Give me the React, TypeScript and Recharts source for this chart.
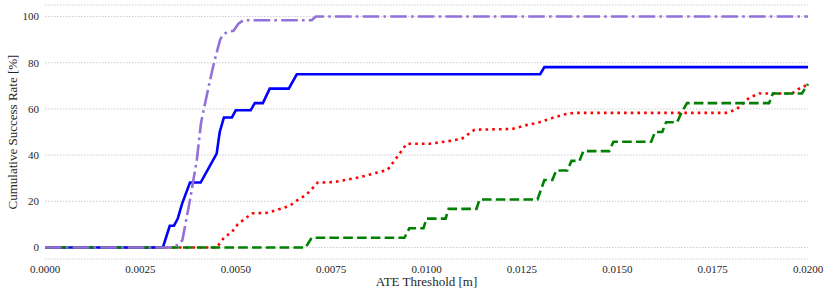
import { LineChart, Line, XAxis, YAxis, CartesianGrid } from 'recharts';

// tick positions
const xTicks = [0, 0.0025, 0.005, 0.0075, 0.01, 0.0125, 0.015, 0.0175, 0.02];
const yTicks = [0, 20, 40, 60, 80, 100];

// red, dotted
const redX = [0, 0.0045, 0.00471, 0.00489, 0.00505, 0.00531, 0.00545, 0.00581, 0.00607, 0.00641, 0.0066, 0.00686, 0.00715, 0.00757, 0.00825, 0.00872, 0.00898, 0.00921, 0.00948, 0.01008, 0.01052, 0.01092, 0.01126, 0.01225, 0.01257, 0.01296, 0.0133, 0.01366, 0.01387, 0.01785, 0.01812, 0.01846, 0.01872, 0.01958, 0.01976, 0.02];
const redY = [0, 0, 4.6, 6.5, 10, 13.3, 14.8, 15, 16.2, 18, 20.3, 23, 28.1, 28.3, 30.4, 32.5, 33.6, 38.7, 44.9, 44.9, 45.9, 47, 51, 51.3, 52.8, 54.2, 56.1, 57.8, 58.3, 58.3, 59.7, 64.8, 66.7, 66.7, 68.7, 70.6];

// blue, solid
const blueX = [0, 0.00309, 0.00327, 0.00338, 0.00348, 0.00359, 0.00366, 0.0038, 0.00408, 0.0045, 0.00458, 0.00469, 0.0049, 0.005, 0.00539, 0.0055, 0.00571, 0.00589, 0.00639, 0.0066, 0.01298, 0.01309, 0.02];
const blueY = [0, 0, 9.4, 9.4, 12.5, 18.8, 21.9, 28.1, 28.1, 40.6, 50, 56.3, 56.3, 59.4, 59.4, 62.5, 62.5, 68.8, 68.8, 75, 75, 78.1, 78.1];

// green, dashed
const greenX = [0, 0.00683, 0.00699, 0.00942, 0.00955, 0.00992, 0.01, 0.0105, 0.01058, 0.01131, 0.01139, 0.01291, 0.01309, 0.0133, 0.0134, 0.01369, 0.0138, 0.01401, 0.01411, 0.01479, 0.0149, 0.01589, 0.01599, 0.01618, 0.01628, 0.01657, 0.01668, 0.01683, 0.01898, 0.01908, 0.01984, 0.02];
const greenY = [0, 0, 4.2, 4.2, 8.3, 8.3, 12.5, 12.5, 16.7, 16.7, 20.8, 20.8, 29.2, 29.2, 33.3, 33.3, 37.5, 37.5, 41.7, 41.7, 45.8, 45.8, 50, 50, 54.2, 54.2, 58.3, 62.5, 62.5, 66.7, 66.7, 70.8];

// purple, dash-dot
const purpleX = [0, 0.00338, 0.0035, 0.0036, 0.0038, 0.00398, 0.00409, 0.00428, 0.00443, 0.00459, 0.00467, 0.00478, 0.00494, 0.00507, 0.0052, 0.00699, 0.0071, 0.02];
const purpleY = [0, 0, 1.6, 3.1, 20.5, 38, 54, 69, 80, 90, 92.2, 93.3, 93.8, 96.9, 98.4, 98.4, 100, 100];

const toPoints = (xs: number[], ys: number[]) => xs.map((x, i) => ({ x, y: ys[i] }));

const font = 'Liberation Serif';
const tickStyle = { fontSize: 11, fill: '#262626', fontFamily: font };

export default function App() {
  return (
    <div style={{ position: 'absolute', left: 0, top: 0, fontFamily: font }}>
      <LineChart width={831} height={297} margin={{ top: 5, right: 23, left: 0, bottom: 0 }} style={{ fontFamily: font }}>
        <CartesianGrid
          stroke="#c0c0c0"
          strokeDasharray="1.5 1.5"
          strokeWidth={0.8}
          verticalCoordinatesGenerator={({ xAxis }: any) =>
            typeof xAxis?.scale === 'function'
              ? xTicks.slice(1, -1).map((t) => xAxis.scale(t))
              : []
          }
        />
        <XAxis
          type="number"
          dataKey="x"
          domain={[0, 0.02]}
          ticks={xTicks}
          tickFormatter={(v) => v.toFixed(4)}
          axisLine={false}
          tickLine={false}
          tickSize={3}
          tickMargin={3}
          height={38}
          tick={tickStyle}
          label={{ value: 'ATE Threshold [m]', position: 'insideBottom', offset: 11, fontSize: 13, fill: '#262626', fontFamily: font }}
        />
        <YAxis
          type="number"
          domain={[-5, 105]}
          ticks={yTicks}
          axisLine={false}
          tickLine={false}
          tickSize={3}
          tickMargin={3}
          width={45}
          tick={tickStyle}
          label={{ value: 'Cumulative Success Rate [%]', angle: -90, position: 'insideLeft', offset: 12, textAnchor: 'middle', fontSize: 13, fill: '#262626', fontFamily: font }}
        />
        <Line data={toPoints(redX, redY)} dataKey="y" type="linear" stroke="#ff0000" strokeWidth={2.6} strokeDasharray="2.6 4.1" dot={false} activeDot={false} isAnimationActive={false} />
        <Line data={toPoints(blueX, blueY)} dataKey="y" type="linear" stroke="#0000ff" strokeWidth={2.6} dot={false} activeDot={false} isAnimationActive={false} />
        <Line data={toPoints(greenX, greenY)} dataKey="y" type="linear" stroke="#008000" strokeWidth={2.6} strokeDasharray="9.6 4.2" dot={false} activeDot={false} isAnimationActive={false} />
        <Line data={toPoints(purpleX, purpleY)} dataKey="y" type="linear" stroke="#9370db" strokeWidth={2.6} strokeDasharray="16.6 4.2 2.6 4.2" dot={false} activeDot={false} isAnimationActive={false} />
      </LineChart>
    </div>
  );
}
